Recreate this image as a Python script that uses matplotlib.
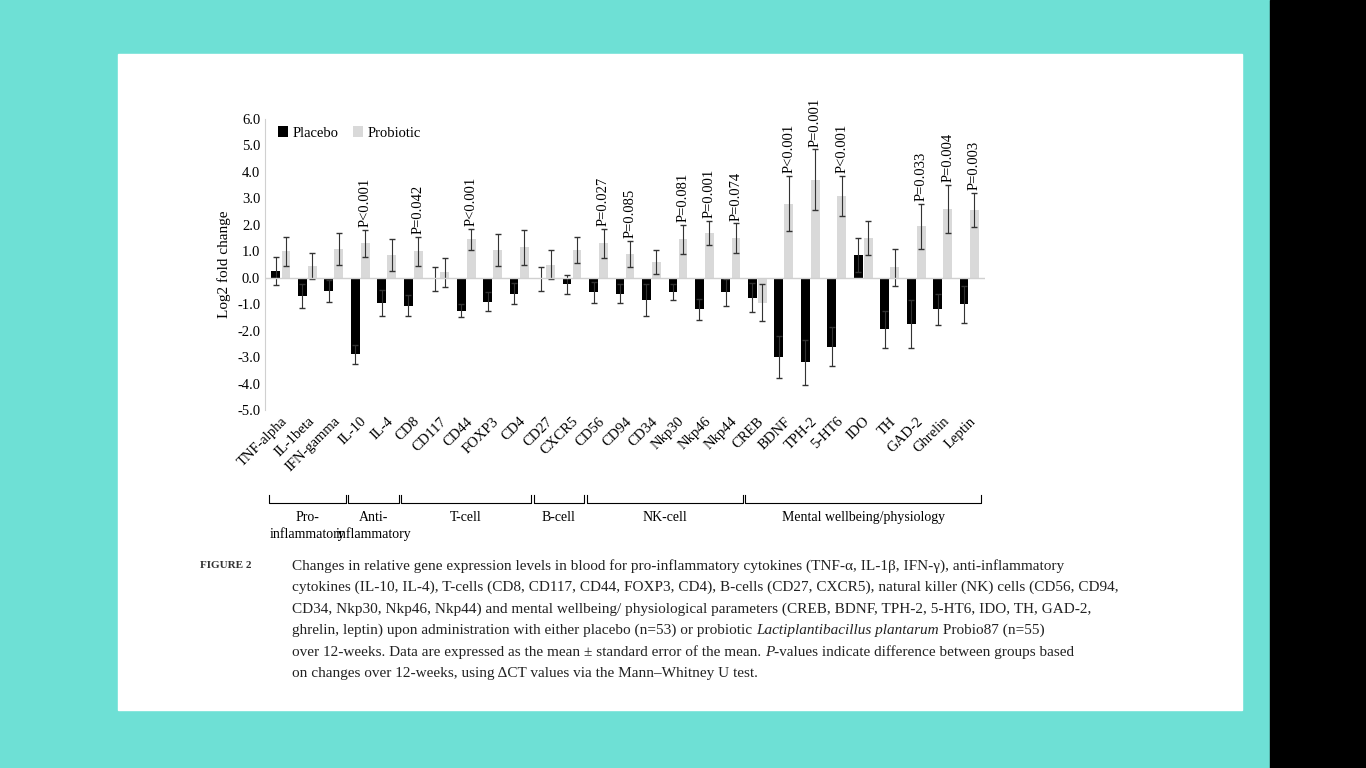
import numpy as np
import matplotlib
matplotlib.use("Agg")
from matplotlib import pyplot as plt
from matplotlib.patches import Rectangle
from matplotlib.transforms import blended_transform_factory

# data
genes = ["TNF-alpha", "IL-1beta", "IFN-gamma", "IL-10", "IL-4", "CD8", "CD117",
         "CD44", "FOXP3", "CD4", "CD27", "CXCR5", "CD56", "CD94", "CD34",
         "Nkp30", "Nkp46", "Nkp44", "CREB", "BDNF", "TPH-2", "5-HT6", "IDO",
         "TH", "GAD-2", "Ghrelin", "Leptin"]
placebo = [0.25, -0.7, -0.5, -2.9, -0.95, -1.05, -0.05, -1.25, -0.9, -0.6,
           -0.05, -0.25, -0.55, -0.6, -0.85, -0.55, -1.2, -0.55, -0.75, -3.0,
           -3.2, -2.6, 0.85, -1.95, -1.75, -1.2, -1.0]
placebo_err = [0.52, 0.45, 0.4, 0.35, 0.5, 0.4, 0.45, 0.25, 0.35, 0.4,
               0.45, 0.35, 0.4, 0.35, 0.6, 0.3, 0.4, 0.5, 0.55, 0.8,
               0.85, 0.75, 0.65, 0.7, 0.9, 0.6, 0.7]
probiotic = [1.0, 0.45, 1.1, 1.3, 0.85, 1.0, 0.2, 1.45, 1.05, 1.15,
             0.5, 1.05, 1.3, 0.9, 0.6, 1.45, 1.7, 1.5, -0.95, 2.8,
             3.7, 3.1, 1.5, 0.4, 1.95, 2.6, 2.55]
probiotic_err = [0.55, 0.5, 0.6, 0.5, 0.6, 0.55, 0.55, 0.4, 0.6, 0.65,
                 0.55, 0.5, 0.55, 0.5, 0.45, 0.55, 0.45, 0.55, 0.7, 1.05,
                 1.15, 0.75, 0.65, 0.7, 0.85, 0.9, 0.65]
pvalues = {3: "P<0.001", 5: "P=0.042", 7: "P<0.001", 12: "P=0.027",
           13: "P=0.085", 15: "P=0.081", 16: "P=0.001", 17: "P=0.074",
           19: "P<0.001", 20: "P=0.001", 21: "P<0.001", 24: "P=0.033",
           25: "P=0.004", 26: "P=0.003"}
groups = [("Pro-\ninflammatory", 0, 2), ("Anti-\ninflammatory", 3, 4),
          ("T-cell", 5, 9), ("B-cell", 10, 11), ("NK-cell", 12, 17),
          ("Mental wellbeing/physiology", 18, 26)]

serif = "Liberation Serif"
plt.rcParams["font.family"] = [serif, "DejaVu Serif"]

fig = plt.figure(figsize=(13.66, 7.68), dpi=100)
fig.patch.set_facecolor("#6ee0d5")
fig.patches.append(Rectangle((1270 / 1366, 0), 96 / 1366, 1, color="black",
                             transform=fig.transFigure, figure=fig,
                             zorder=-10))
fig.patches.append(Rectangle((118 / 1366, 1 - 710 / 768), 1124 / 1366,
                             656 / 768, color="white",
                             transform=fig.transFigure, figure=fig,
                             zorder=-10))

ax = fig.add_axes([265 / 1366, 1 - 410 / 768, 720 / 1366, 291 / 768])
ax.set_zorder(5)
ax.set_facecolor("white")
x = np.arange(len(genes))
w = 0.33
ax.bar(x - 0.19, placebo, w, color="black", label="Placebo",
       yerr=placebo_err, error_kw=dict(ecolor="#333333", elinewidth=0.8,
                                       capsize=2))
ax.bar(x + 0.19, probiotic, w, color="#d9d9d9", label="Probiotic",
       yerr=probiotic_err, error_kw=dict(ecolor="#333333", elinewidth=0.8,
                                         capsize=2))
ax.axhline(0, color="#d0d0d0", lw=1)

# p-value labels above the probiotic error bar
for i, txt in pvalues.items():
    top = probiotic[i] + probiotic_err[i]
    ax.text(i + 0.19, top + 0.1, txt, rotation=90, ha="center", va="bottom",
            fontsize=10.5)

ax.set_ylim(-5, 6)
ax.set_xlim(-0.6, len(genes) - 0.4)
ax.set_yticks(np.arange(-5, 6.1, 1))
ax.set_yticklabels([f"{v:.1f}" for v in np.arange(-5, 6.1, 1)], fontsize=10.5)
ax.set_xticks(x)
ax.set_xticklabels(genes, rotation=45, ha="right", rotation_mode="anchor",
                   fontsize=10.5)
ax.tick_params(length=0)
ax.set_ylabel("Log2 fold change", fontsize=11)
for s in ["top", "right", "bottom"]:
    ax.spines[s].set_visible(False)
ax.spines["left"].set_color("#d0d0d0")
ax.legend(loc="upper left", frameon=False, fontsize=10.5, handlelength=0.7,
          handletextpad=0.3, ncol=2, columnspacing=1.0,
          bbox_to_anchor=(0.0, 1.02))

# group brackets under the tick labels
tr = blended_transform_factory(ax.transData, fig.transFigure)
yb = 1 - 503 / 768
for name, a, b in groups:
    xa, xb = a - 0.45, b + 0.45
    ax.plot([xa, xa, xb, xb], [yb + 0.01, yb, yb, yb + 0.01], color="black",
            lw=0.8, transform=tr, clip_on=False)
    ax.text((a + b) / 2, yb - 0.01, name, ha="center", va="top",
            fontsize=10, transform=tr, linespacing=1.3)

# caption
fig.text(200 / 1366, 1 - 566 / 768, "FIGURE 2", fontsize=8, fontweight="bold",
         color="#333333", va="center")
lines = [
    [("Changes in relative gene expression levels in blood for pro-inflammatory cytokines (TNF-α, IL-1β, IFN-γ), anti-inflammatory", "normal")],
    [("cytokines (IL-10, IL-4), T-cells (CD8, CD117, CD44, FOXP3, CD4), B-cells (CD27, CXCR5), natural killer (NK) cells (CD56, CD94,", "normal")],
    [("CD34, Nkp30, Nkp46, Nkp44) and mental wellbeing/ physiological parameters (CREB, BDNF, TPH-2, 5-HT6, IDO, TH, GAD-2,", "normal")],
    [("ghrelin, leptin) upon administration with either placebo (n=53) or probiotic ", "normal"),
     ("Lactiplantibacillus plantarum", "italic"), (" Probio87 (n=55)", "normal")],
    [("over 12-weeks. Data are expressed as the mean ± standard error of the mean. ", "normal"),
     ("P", "italic"), ("-values indicate difference between groups based", "normal")],
    [("on changes over 12-weeks, using ΔCT values via the Mann–Whitney U test.", "normal")],
]
renderer = fig.canvas.get_renderer()
for k, segs in enumerate(lines):
    xpos = 292 / 1366
    ypos = 1 - (566 + 21.5 * k) / 768
    for txt, style in segs:
        t = fig.text(xpos, ypos, txt, fontsize=11, style=style, va="center",
                     color="#222222")
        bb = t.get_window_extent(renderer=renderer)
        xpos += bb.width / fig.bbox.width

fig.savefig("out.png", dpi=100, facecolor=fig.get_facecolor())
